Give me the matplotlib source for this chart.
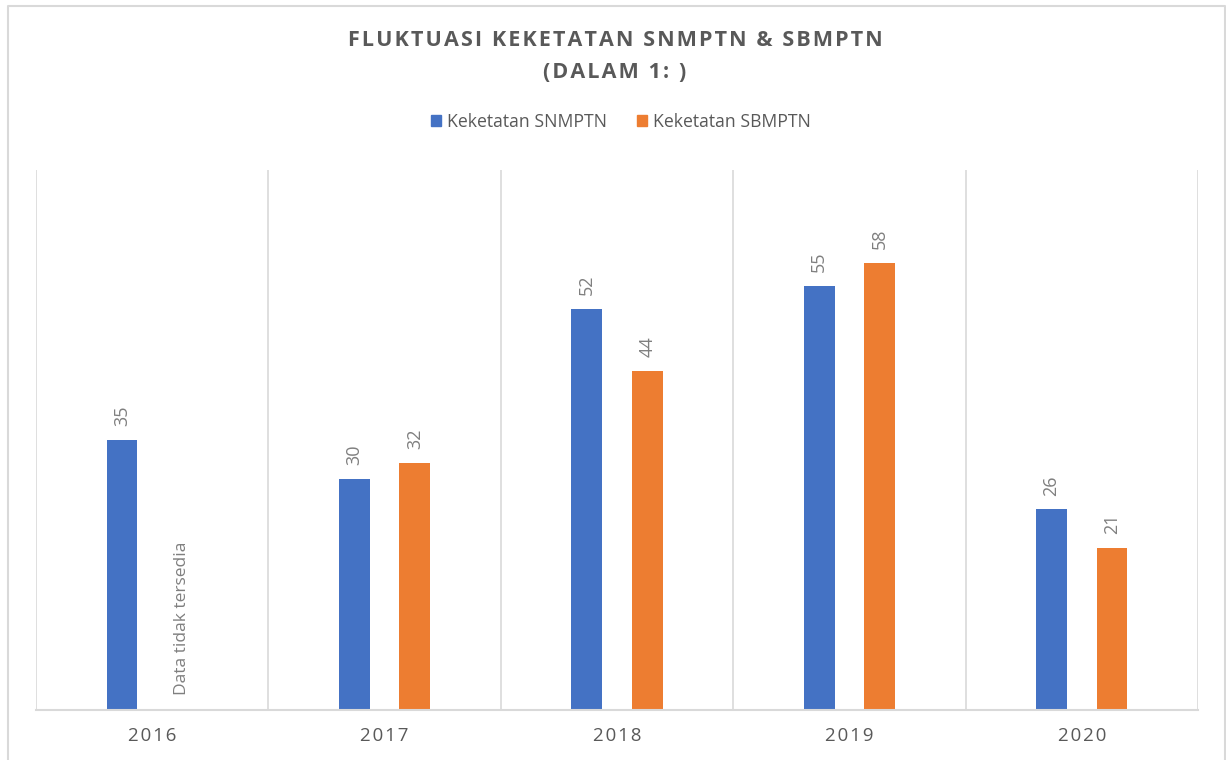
import numpy as np
import matplotlib.pyplot as plt
from matplotlib.lines import Line2D
from matplotlib.patches import Patch

plt.rcParams['font.family'] = ['Open Sans', 'DejaVu Sans']

tahun = ["2016", "2017", "2018", "2019", "2020"]
snmptn = [35, 30, 52, 55, 26]
sbmptn = [None, 32, 44, 58, 21]

biru = "#4472C4"
oranye = "#ED7D31"
abu = "#595959"
garis = "#D9D9D9"


def renggang(teks, sela="\u200a"):
    # Excel-style letter spacing
    return sela.join(teks)


fig = plt.figure(figsize=(12.26, 7.6), dpi=100)
ax = fig.add_axes([36 / 1226, 50 / 760, 1162 / 1226, 540 / 760])

x = np.arange(len(tahun))
lebar = 0.133
geser = 0.13

ax.bar(x - geser, snmptn, width=lebar, color=biru, label="Keketatan SNMPTN")
x_sb = [xi + geser for xi, v in zip(x, sbmptn) if v is not None]
v_sb = [v for v in sbmptn if v is not None]
ax.bar(x_sb, v_sb, width=lebar, color=oranye, label="Keketatan SBMPTN")

for xi, v in zip(x, snmptn):
    ax.annotate(str(v), (xi - geser, v), xytext=(0, 10), textcoords="offset points",
                rotation=90, ha="center", va="bottom", color="#7F7F7F", fontsize=13)
for xi, v in zip(x_sb, v_sb):
    ax.annotate(str(v), (xi, v), xytext=(0, 10), textcoords="offset points",
                rotation=90, ha="center", va="bottom", color="#7F7F7F", fontsize=13)

ax.annotate("Data tidak tersedia", (x[0] + geser, 0), xytext=(0, 11), textcoords="offset points",
            rotation=90, ha="center", va="bottom", color="#7F7F7F", fontsize=12.5)

ax.set_xlim(-0.5, len(tahun) - 0.5)
ax.set_ylim(0, 70)
ax.set_yticks([])
ax.set_xticks(x)
ax.set_xticklabels([renggang(t) for t in tahun], color=abu, fontsize=13.5)
ax.tick_params(axis="x", length=0, pad=12)

for b in np.arange(-0.5, len(tahun), 1.0):
    ax.axvline(b, color=garis, lw=1.2, zorder=0)

for s in ["top", "left", "right"]:
    ax.spines[s].set_visible(False)
ax.spines["bottom"].set_color(garis)
ax.spines["bottom"].set_linewidth(1.5)

fig.text(615 / 1226, 1 - 41 / 760, renggang("FLUKTUASI KEKETATAN SNMPTN & SBMPTN"),
         ha="center", va="center", fontsize=15.5, fontweight="bold", color=abu)
fig.text(615 / 1226, 1 - 73 / 760, renggang("(DALAM 1: )"),
         ha="center", va="center", fontsize=15.5, fontweight="bold", color=abu)

fig.legend(handles=[Patch(color=biru, label="Keketatan SNMPTN"),
                    Patch(color=oranye, label="Keketatan SBMPTN")],
           loc="center", bbox_to_anchor=(621 / 1226, 1 - 122 / 760), ncol=2,
           frameon=False, fontsize=12.7, labelcolor=abu, handlelength=0.55,
           handleheight=0.55, handletextpad=0.35, columnspacing=1.7)

# chart border
fig.add_artist(Line2D([8 / 1226, 8 / 1226, 1225 / 1226, 1225 / 1226],
                      [0, 1 - 6 / 760, 1 - 6 / 760, 0], color=garis, lw=1.5))

plt.savefig("out.png", dpi=100)
